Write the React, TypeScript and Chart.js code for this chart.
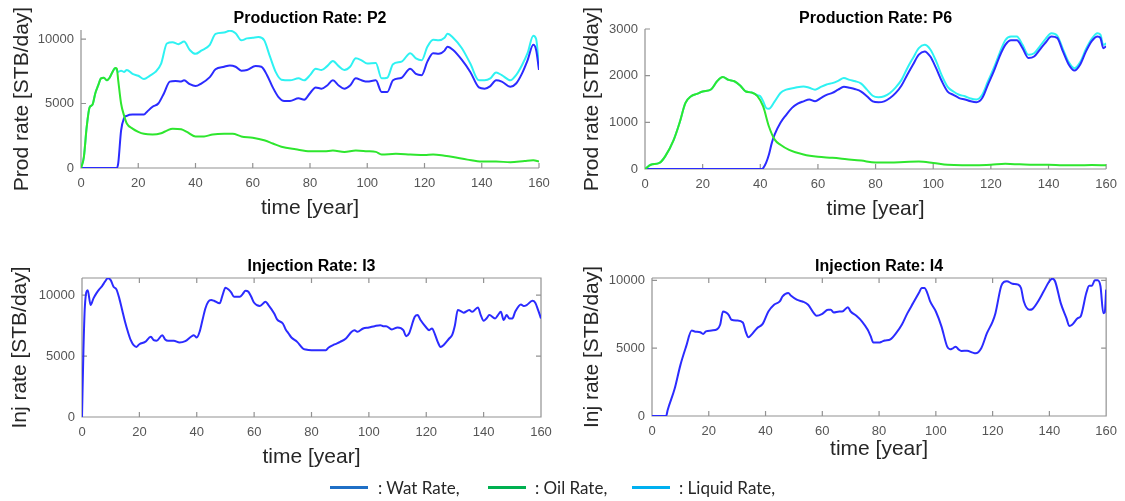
import React, { useEffect, useRef } from "react";
import { Chart, registerables } from "chart.js";

Chart.register(...registerables);

// ---------- data ----------
const YEAR_TICKS = [0, 20, 40, 60, 80, 100, 120, 140, 160];
const P2_TICKS = [0, 5000, 10000];
const P6_TICKS = [0, 1000, 2000, 3000];
const INJ_TICKS = [0, 5000, 10000];

// Producer P2
const p2OilYears = [0, 1, 2, 3, 4, 5, 6, 7, 8, 9, 10, 11, 12, 12.5, 13, 14, 15, 16, 18, 20, 22, 25, 28, 30, 32, 35, 37, 40, 43, 46, 50, 53, 56, 60, 64, 67, 70, 75, 80, 85, 88, 92, 96, 100, 103, 105, 110, 115, 120, 123, 127, 130, 135, 140, 145, 150, 155, 158, 160];
const p2Oil = [0, 850, 3200, 4700, 4900, 5800, 6400, 6950, 7000, 6800, 7000, 7450, 7750, 7700, 6800, 5000, 4100, 3450, 3050, 2800, 2650, 2600, 2700, 2900, 3050, 3000, 2800, 2450, 2450, 2600, 2650, 2650, 2450, 2350, 2150, 1900, 1650, 1450, 1300, 1300, 1350, 1250, 1350, 1300, 1250, 1050, 1100, 1050, 1000, 1050, 950, 850, 650, 500, 500, 450, 550, 600, 500];

const p2WatYears = [0, 12.5, 13, 14, 15, 16, 18, 20, 22, 23, 25, 27, 29, 31, 33, 35, 36, 38, 40, 42, 45, 47, 50, 52, 54, 56, 58, 61, 63, 65, 67, 69, 71, 73, 76, 78, 80, 82, 84, 86, 88, 90, 92, 94, 96, 98, 100, 103, 105, 107, 109, 112, 115, 117, 119, 121, 123, 125, 127, 128, 130, 133, 136, 139, 141, 143, 145, 147, 150, 152, 154, 156, 158, 159, 160];
const p2Wat = [0, 0, 350, 2900, 3850, 4050, 4150, 4150, 4150, 4350, 4750, 5000, 5800, 6700, 6750, 6700, 6800, 6500, 6350, 6550, 7050, 7650, 7850, 7950, 7850, 7550, 7600, 7900, 7850, 7200, 6250, 5500, 5200, 5200, 5400, 5300, 5800, 6250, 6150, 6400, 6800, 6400, 6150, 6400, 6950, 6800, 6700, 6800, 5900, 5900, 6800, 7000, 7700, 7300, 7200, 8250, 8900, 8850, 9100, 9400, 9150, 8400, 7450, 6250, 6150, 6350, 6800, 6700, 6300, 6550, 7300, 8350, 9550, 9150, 7600];

const p2LiqYears = [0, 1, 2, 3, 4, 5, 6, 7, 8, 9, 10, 11, 12, 13, 14, 15, 16, 18, 20, 22, 24, 26, 28, 30, 32, 34, 36, 38, 40, 42, 45, 47, 50, 52, 54, 56, 58, 60, 62, 64, 66, 68, 70, 73, 76, 78, 80, 82, 84, 86, 88, 90, 92, 94, 96, 98, 100, 103, 105, 107, 109, 112, 115, 117, 119, 121, 123, 125, 127, 128, 130, 133, 136, 139, 141, 143, 145, 147, 150, 152, 154, 156, 158, 159, 160];
const p2Liq = [0, 850, 3200, 4700, 4900, 5800, 6400, 6950, 7000, 6800, 7000, 7450, 7750, 7450, 7550, 7450, 7600, 7300, 7150, 6900, 7150, 7450, 8100, 9650, 9750, 9600, 9800, 9150, 8850, 9100, 9550, 10400, 10500, 10650, 10450, 9900, 10050, 10100, 10150, 9900, 8650, 7450, 6850, 6800, 6950, 6800, 7200, 7700, 7600, 7900, 8300, 7900, 7600, 7850, 8500, 8350, 8100, 8150, 6950, 7000, 8050, 8250, 8900, 8500, 8350, 9400, 9950, 9900, 10100, 10400, 10100, 9300, 8100, 6800, 6800, 6950, 7400, 7200, 6800, 7200, 7950, 8900, 10250, 10000, 7850];

// Producer P6
const p6OilYears = [0, 2, 5, 7, 10, 12, 14, 16, 18, 20, 23, 25, 27, 29, 31, 33, 35, 37, 39, 41, 43, 45, 47, 50, 55, 60, 65, 70, 75, 80, 85, 90, 95, 100, 105, 110, 115, 120, 125, 130, 135, 140, 145, 150, 155, 160];
const p6Oil = [0, 90, 130, 270, 630, 990, 1410, 1560, 1610, 1660, 1710, 1880, 1970, 1910, 1880, 1790, 1660, 1640, 1560, 1340, 910, 630, 520, 410, 310, 260, 240, 210, 180, 140, 140, 150, 160, 130, 90, 80, 80, 90, 110, 100, 90, 90, 80, 80, 85, 80];

const p6WatYears = [0, 40.5, 41, 42, 43, 44, 45, 47, 49, 51, 53, 55, 57, 59, 61, 63, 65, 67, 69, 71, 73, 75, 77, 79, 81, 83, 85, 87, 89, 91, 93, 95, 97, 99, 101, 103, 105, 107, 109, 111, 113, 115, 117, 119, 121, 123, 125, 127, 129, 131, 133, 135, 137, 139, 141, 143, 145, 147, 149, 151, 153, 155, 157, 158, 159, 160];
const p6Wat = [0, 0, 20, 130, 310, 560, 740, 990, 1160, 1310, 1400, 1450, 1490, 1450, 1520, 1590, 1630, 1700, 1760, 1740, 1710, 1660, 1560, 1450, 1430, 1450, 1520, 1630, 1790, 2020, 2240, 2450, 2520, 2410, 2160, 1880, 1660, 1590, 1520, 1490, 1450, 1430, 1520, 1810, 2090, 2410, 2660, 2760, 2760, 2590, 2380, 2410, 2560, 2710, 2840, 2810, 2520, 2240, 2110, 2240, 2520, 2740, 2840, 2810, 2590, 2630];

const p6LiqYears = [0, 2, 5, 7, 10, 12, 14, 16, 18, 20, 23, 25, 27, 29, 31, 33, 35, 37, 39, 40, 41, 42, 43, 45, 47, 49, 52, 55, 57, 59, 61, 63, 65, 67, 69, 71, 73, 75, 77, 79, 81, 83, 85, 87, 89, 91, 93, 95, 97, 99, 101, 103, 105, 107, 109, 111, 113, 115, 117, 119, 121, 123, 125, 127, 129, 131, 133, 135, 137, 139, 141, 143, 145, 147, 149, 151, 153, 155, 157, 158, 159, 160];
const p6Liq = [0, 90, 130, 270, 630, 990, 1410, 1560, 1610, 1660, 1710, 1880, 1970, 1910, 1880, 1790, 1660, 1640, 1580, 1560, 1450, 1310, 1290, 1450, 1630, 1700, 1740, 1770, 1740, 1700, 1760, 1810, 1840, 1890, 1950, 1910, 1880, 1830, 1700, 1570, 1540, 1560, 1630, 1750, 1910, 2160, 2380, 2590, 2660, 2560, 2310, 2000, 1760, 1660, 1590, 1560, 1510, 1490, 1590, 1880, 2160, 2480, 2760, 2840, 2840, 2660, 2450, 2480, 2630, 2790, 2910, 2860, 2570, 2290, 2160, 2290, 2570, 2790, 2910, 2880, 2660, 2690];

// Injector I3
const i3Years = [0, 0.5, 1, 2, 3, 4, 5, 6, 7, 8, 9, 10, 11, 12, 13, 14, 15, 16, 17, 18, 19, 20, 22, 24, 25, 26, 28, 29, 30, 32, 34, 36, 38, 39, 40, 41, 42, 43, 44, 45, 46, 48, 49, 50, 51, 52, 53, 55, 56, 57, 58, 59, 60, 62, 64, 65, 67, 68, 70, 71, 72, 73, 75, 77, 78, 80, 83, 85, 86, 88, 90, 92, 94, 95, 96, 98, 100, 102, 104, 105, 106, 108, 110, 112, 113, 114, 116, 117, 118, 120, 121, 122, 123, 124, 125, 126, 128, 129, 130, 131, 132, 133, 135, 136, 138, 139, 140, 141, 142, 144, 145, 146, 147, 148, 149, 150, 151, 153, 154, 155, 157, 158, 159, 160];
const i3Inj = [0, 5480, 9040, 10400, 9180, 9730, 10140, 10470, 10740, 11100, 11370, 11230, 10680, 10470, 9730, 8770, 7810, 6990, 6300, 5890, 5750, 5970, 6160, 6580, 6300, 6250, 6710, 6360, 6250, 6250, 6110, 6220, 6580, 6710, 6520, 6990, 7950, 8900, 9450, 9590, 9530, 9320, 10000, 10600, 10470, 10220, 9860, 9860, 10080, 10360, 10270, 9860, 9370, 9100, 9450, 9180, 8490, 8000, 7670, 7180, 6850, 6520, 6160, 5620, 5530, 5480, 5480, 5480, 5700, 5950, 6160, 6440, 6990, 7120, 6990, 7260, 7340, 7450, 7530, 7450, 7450, 7180, 7340, 7120, 6630, 6850, 8220, 8360, 7950, 7340, 7120, 7260, 6800, 6160, 5750, 5890, 6440, 6710, 7530, 8770, 8690, 8550, 8770, 8630, 8990, 8360, 7890, 8080, 8360, 8080, 8360, 8630, 7950, 8360, 8080, 8080, 8630, 9230, 9100, 9180, 9530, 9370, 8770, 8080];

// Injector I4
const i4Years = [0, 5, 5.5, 8, 10, 12, 14, 15, 17, 18, 19, 21, 23, 24, 25, 26, 27, 28, 30, 32, 33, 34, 35, 37, 39, 41, 43, 45, 46, 48, 49, 51, 53, 55, 57, 58, 60, 62, 63, 64, 66, 67, 69, 70, 72, 74, 76, 77, 78, 80, 81, 82, 84, 86, 88, 90, 92, 94, 95, 96, 97, 98, 100, 102, 104, 105, 106, 107, 108, 109, 111, 113, 114, 116, 118, 120, 121, 123, 124, 125, 127, 129, 130, 131, 133, 134, 136, 138, 140, 141, 142, 144, 146, 147, 148, 150, 151, 153, 154, 155, 156, 157, 158, 159, 159.5, 160];
const i4Inj = [0, 0, 420, 2020, 3750, 5110, 6300, 6230, 6170, 6050, 6230, 6300, 6400, 6720, 7700, 7630, 7460, 7090, 7040, 6890, 6220, 5800, 5980, 6470, 6790, 7700, 8200, 8440, 8810, 9060, 8860, 8570, 8440, 8200, 7580, 7380, 7530, 7830, 7830, 7630, 7700, 7700, 8020, 7700, 7380, 6960, 6350, 5900, 5410, 5410, 5480, 5560, 5650, 6100, 6720, 7580, 8320, 9060, 9430, 9430, 9060, 8440, 7700, 6590, 5110, 4910, 4990, 5110, 4910, 4790, 4810, 4670, 4620, 4990, 6100, 6960, 7580, 9560, 9880, 9930, 9750, 9680, 9430, 8440, 7830, 7880, 8440, 9190, 9930, 10120, 9930, 8320, 7210, 6640, 6720, 7210, 7330, 9060, 9600, 9600, 10000, 10000, 9560, 7580, 7630, 9310];

// ---------- styling ----------
const FONT = "'Liberation Sans', Arial, Helvetica, sans-serif";
const WAT_COLOR = "#2b2bff";
const OIL_COLOR = "#2ee62e";
const LIQ_COLOR = "#2ef2f2";
const AXIS_COLOR = "#929292";
const TICK_TEXT = "#555555";
const LABEL_TEXT = "#262626";

type Series = { label: string; color: string; years: number[]; values: number[] };
type Rect = { left: number; top: number; width: number; height: number };
type Area = { left: number; top: number; right: number; bottom: number };
type PanelSpec = {
  title: string;
  yLabel: string;
  yMax: number;
  yTicks: number[];
  box: boolean;
  series: Series[];
  frame: Rect;
  area: Area;
  titleY: number;
  xTitleY: number;
  yTitleX: number;
};

// Axis lines with inward tick marks (and a full box when requested)
const axesPlugin = {
  id: "insideAxes",
  beforeDatasetsDraw(chart: any, _args: any, opts: any) {
    const { ctx, chartArea: a, scales } = chart;
    const xs = scales.x;
    const ys = scales.y;
    const len = 5;
    ctx.save();
    ctx.strokeStyle = AXIS_COLOR;
    ctx.lineWidth = 1.2;
    ctx.beginPath();
    ctx.moveTo(a.left, a.top);
    ctx.lineTo(a.left, a.bottom);
    ctx.lineTo(a.right, a.bottom);
    if (opts.box) {
      ctx.lineTo(a.right, a.top);
      ctx.lineTo(a.left, a.top);
    }
    for (const t of xs.ticks) {
      const px = xs.getPixelForValue(t.value);
      ctx.moveTo(px, a.bottom);
      ctx.lineTo(px, a.bottom - len);
      if (opts.box) {
        ctx.moveTo(px, a.top);
        ctx.lineTo(px, a.top + len);
      }
    }
    for (const t of ys.ticks) {
      const py = ys.getPixelForValue(t.value);
      ctx.moveTo(a.left, py);
      ctx.lineTo(a.left + len, py);
      if (opts.box) {
        ctx.moveTo(a.right, py);
        ctx.lineTo(a.right - len, py);
      }
    }
    ctx.stroke();
    ctx.restore();
  },
};

const TITLE_SIZE = 16;
const AXIS_TITLE_SIZE = 21;
const X_TITLE_SIZE = 21;
const TICK_SIZE = 13;

function makeConfig(p: PanelSpec): any {
  const titleLH = TITLE_SIZE * 1.2;
  const titlePadTop = p.titleY - titleLH / 2;
  const titlePadBottom = p.area.top - titlePadTop - titleLH;
  return {
    type: "line",
    data: {
      datasets: p.series.map((s) => ({
        label: s.label,
        data: s.years.map((x, i) => ({ x, y: s.values[i] })),
        borderColor: s.color,
        backgroundColor: s.color,
        borderWidth: 2,
        pointRadius: 0,
        fill: false,
        cubicInterpolationMode: "monotone",
        tension: 0.4,
      })),
    },
    options: {
      animation: false,
      responsive: false,
      maintainAspectRatio: false,
      events: [],
      layout: { padding: { left: 0, top: 0, right: p.frame.width - p.area.right, bottom: 0 } },
      plugins: {
        legend: { display: false },
        tooltip: { enabled: false },
        title: {
          display: true,
          text: p.title,
          fullSize: false,
          color: "#000000",
          font: { family: FONT, size: TITLE_SIZE, weight: "bold" },
          padding: { top: titlePadTop, bottom: titlePadBottom },
        },
        insideAxes: { box: p.box },
      },
      scales: {
        x: {
          type: "linear",
          min: 0,
          max: 160,
          afterBuildTicks: (s: any) => {
            s.ticks = YEAR_TICKS.map((v) => ({ value: v }));
          },
          afterFit: (s: any) => {
            s.height = p.frame.height - p.area.bottom;
          },
          grid: { display: false, drawTicks: false },
          border: { display: false },
          ticks: {
            color: TICK_TEXT,
            font: { family: FONT, size: TICK_SIZE },
            padding: 8,
            maxRotation: 0,
            autoSkip: false,
            callback: (v: any) => String(v),
          },
          title: {
            display: true,
            text: "time [year]",
            color: LABEL_TEXT,
            font: { family: FONT, size: X_TITLE_SIZE },
            padding: { top: 0, bottom: p.frame.height - p.xTitleY - (X_TITLE_SIZE * 1.2) / 2 },
          },
        },
        y: {
          type: "linear",
          min: 0,
          max: p.yMax,
          afterBuildTicks: (s: any) => {
            s.ticks = p.yTicks.map((v) => ({ value: v }));
          },
          afterFit: (s: any) => {
            s.width = p.area.left;
          },
          grid: { display: false, drawTicks: false },
          border: { display: false },
          ticks: {
            color: TICK_TEXT,
            font: { family: FONT, size: TICK_SIZE },
            padding: 7,
            autoSkip: false,
            callback: (v: any) => String(v),
          },
          title: {
            display: true,
            text: p.yLabel,
            color: LABEL_TEXT,
            font: { family: FONT, size: AXIS_TITLE_SIZE },
            padding: { top: p.yTitleX - (AXIS_TITLE_SIZE * 1.2) / 2, bottom: 0 },
          },
        },
      },
    },
    plugins: [axesPlugin],
  };
}

const wat = (years: number[], values: number[]): Series => ({ label: "Wat Rate", color: WAT_COLOR, years, values });
const oil = (years: number[], values: number[]): Series => ({ label: "Oil Rate", color: OIL_COLOR, years, values });
const liq = (years: number[], values: number[]): Series => ({ label: "Liquid Rate", color: LIQ_COLOR, years, values });

const PANELS: PanelSpec[] = [
  {
    title: "Production Rate: P2",
    yLabel: "Prod rate [STB/day]",
    yMax: 10700,
    yTicks: P2_TICKS,
    box: false,
    series: [oil(p2OilYears, p2Oil), wat(p2WatYears, p2Wat), liq(p2LiqYears, p2Liq)],
    frame: { left: 0, top: 0, width: 580, height: 235 },
    area: { left: 81, top: 30, right: 539, bottom: 168 },
    titleY: 19,
    xTitleY: 208,
    yTitleX: 22,
  },
  {
    title: "Production Rate: P6",
    yLabel: "Prod rate [STB/day]",
    yMax: 3000,
    yTicks: P6_TICKS,
    box: false,
    series: [oil(p6OilYears, p6Oil), wat(p6WatYears, p6Wat), liq(p6LiqYears, p6Liq)],
    frame: { left: 560, top: 0, width: 565, height: 235 },
    area: { left: 85, top: 29, right: 552, bottom: 169 },
    titleY: 19,
    xTitleY: 209,
    yTitleX: 32,
  },
  {
    title: "Injection Rate: I3",
    yLabel: "Inj rate [STB/day]",
    yMax: 11400,
    yTicks: INJ_TICKS,
    box: true,
    series: [wat(i3Years, i3Inj)],
    frame: { left: 0, top: 250, width: 580, height: 235 },
    area: { left: 82, top: 28, right: 541, bottom: 167 },
    titleY: 17,
    xTitleY: 207,
    yTitleX: 20,
  },
  {
    title: "Injection Rate: I4",
    yLabel: "Inj rate [STB/day]",
    yMax: 10170,
    yTicks: INJ_TICKS,
    box: true,
    series: [wat(i4Years, i4Inj)],
    frame: { left: 560, top: 250, width: 565, height: 235 },
    area: { left: 92, top: 28, right: 552, bottom: 166 },
    titleY: 17,
    xTitleY: 199,
    yTitleX: 32,
  },
];

function Panel({ spec }: { spec: PanelSpec }) {
  const ref = useRef<HTMLCanvasElement | null>(null);
  useEffect(() => {
    if (!ref.current) return;
    const chart = new Chart(ref.current, makeConfig(spec));
    return () => chart.destroy();
  }, [spec]);
  const f = spec.frame;
  return (
    <canvas
      ref={ref}
      width={f.width}
      height={f.height}
      style={{ position: "absolute", left: f.left, top: f.top, width: f.width, height: f.height }}
    />
  );
}

const LEGEND_ITEMS = [
  { text: ": Wat Rate,", color: "#1f6fc6", lineLeft: 330, textLeft: 378 },
  { text: ": Oil Rate,", color: "#00b050", lineLeft: 488, textLeft: 535 },
  { text: ": Liquid Rate,", color: "#00b0f0", lineLeft: 632, textLeft: 679 },
];

export default function App() {
  return (
    <div
      style={{
        position: "absolute",
        left: 0,
        top: 0,
        width: 1125,
        height: 501,
        background: "#ffffff",
        overflow: "hidden",
      }}
    >
      {PANELS.map((p) => (
        <Panel key={p.title} spec={p} />
      ))}
      {LEGEND_ITEMS.map((it) => (
        <React.Fragment key={it.text}>
          <div
            style={{
              position: "absolute",
              left: it.lineLeft,
              top: 486,
              width: 38,
              height: 3,
              background: it.color,
            }}
          />
          <div
            style={{
              position: "absolute",
              left: it.textLeft,
              top: 476,
              height: 24,
              lineHeight: "24px",
              fontFamily: "Lato, 'Open Sans', sans-serif",
              fontSize: 17,
              color: "#262626",
              whiteSpace: "nowrap",
            }}
          >
            {it.text}
          </div>
        </React.Fragment>
      ))}
    </div>
  );
}
